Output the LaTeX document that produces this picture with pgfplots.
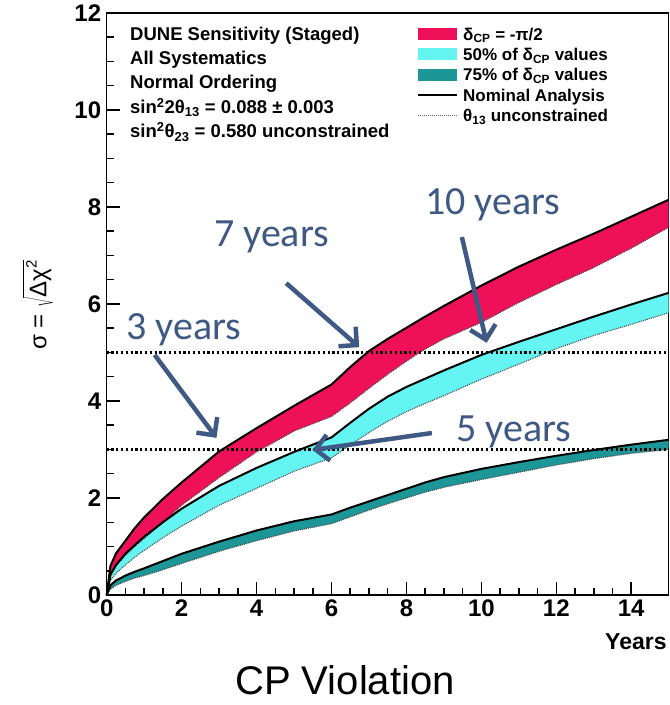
\documentclass[border=0pt]{standalone}
\usepackage{pgfplots}
\pgfplotsset{compat=1.18}
\usepackage{pgfplotstable}
\usepgfplotslibrary{fillbetween}
\usetikzlibrary{arrows.meta}
\usepackage{fontspec}
\setmainfont{Liberation Sans}
\newfontfamily\calib{Carlito}

\definecolor{bandred}{RGB}{238,16,88}
\definecolor{bandcyan}{RGB}{100,245,242}
\definecolor{bandteal}{RGB}{28,150,150}
\definecolor{note}{RGB}{62,90,132}

% Years, then upper (nominal) and lower (theta13 unconstrained) edges of each band
\pgfplotstableread{
x     ru    rl    cu    cl    tu    tl
0     0     0     0     0     0     0
0.1   0.60  0.40  0.42  0.30  0.20  0.12
0.25  0.86  0.60  0.62  0.45  0.30  0.20
0.5   1.12  0.82  0.85  0.62  0.40  0.28
0.75  1.38  1.00  1.03  0.78  0.48  0.35
1     1.60  1.17  1.20  0.92  0.55  0.40
1.5   1.98  1.50  1.50  1.18  0.70  0.52
2     2.32  1.85  1.78  1.42  0.85  0.65
3     2.96  2.42  2.25  1.85  1.10  0.90
4     3.44  2.95  2.62  2.20  1.33  1.12
5     3.90  3.38  2.95  2.55  1.52  1.32
6     4.34  3.68  3.25  2.83  1.66  1.47
6.5   4.70  3.96  3.55  3.09  1.80  1.61
7     5.03  4.26  3.84  3.35  1.93  1.75
7.5   5.28  4.55  4.09  3.58  2.06  1.88
8     5.51  4.82  4.29  3.78  2.19  2.00
8.5   5.74  5.07  4.46  3.95  2.32  2.12
9     5.96  5.28  4.63  4.11  2.43  2.22
10    6.38  5.62  4.95  4.45  2.60  2.38
11    6.77  6.03  5.22  4.76  2.74  2.53
12    7.12  6.40  5.48  5.08  2.87  2.68
13    7.45  6.75  5.74  5.35  2.99  2.81
14    7.80  7.15  5.99  5.58  3.10  2.92
15    8.15  7.58  6.23  5.82  3.20  3.00
}\sens

\begin{document}
\begin{tikzpicture}
\begin{axis}[
  scale only axis, width=562pt, height=582pt,
  xmin=0, xmax=15, ymin=0, ymax=12,
  xtick={0,2,...,14}, ytick={0,2,...,12},
  minor tick num=3,
  tick align=inside, tick pos=left,
  major tick length=13pt, minor tick length=7pt,
  every tick/.style={black, line width=1.5pt},
  axis line style={line width=1.5pt},
  ticklabel style={font=\fontsize{24}{24}\selectfont\bfseries},
  /pgf/number format/assume math mode=true,
  xticklabel style={yshift=-1pt},
  yticklabel style={xshift=-2pt},
  clip=false,
]
% band edges
\addplot[draw=none, name path=ru] table[x=x,y=ru]{\sens};
\addplot[draw=none, name path=rl] table[x=x,y=rl]{\sens};
\addplot[draw=none, name path=cu] table[x=x,y=cu]{\sens};
\addplot[draw=none, name path=cl] table[x=x,y=cl]{\sens};
\addplot[draw=none, name path=tu] table[x=x,y=tu]{\sens};
\addplot[draw=none, name path=tl] table[x=x,y=tl]{\sens};
\addplot[bandred] fill between[of=ru and rl];
\addplot[bandcyan] fill between[of=cu and cl];
\addplot[bandteal] fill between[of=tu and tl];

% theta13 unconstrained (dotted) and nominal (solid)
\foreach \c in {rl,cl,tl}{
  \addplot[black!70, line width=1.1pt, dash pattern=on 1pt off 1pt] table[x=x,y=\c]{\sens};
}
\foreach \c in {ru,cu,tu}{
  \addplot[black, line width=2pt] table[x=x,y=\c]{\sens};
}

% 3 and 5 sigma reference lines
\addplot[black, line width=2.2pt, dash pattern=on 2.2pt off 2.6pt] coordinates {(0,3) (15,3)};
\addplot[black, line width=2.2pt, dash pattern=on 2.2pt off 2.6pt] coordinates {(0,5) (15,5)};

% annotations
\begin{scope}[note, line width=4.5pt, -{Straight Barb[length=13pt,width=26pt]}]
\draw (axis cs:1.28,4.95) -- (axis cs:2.93,3.24);
\draw (axis cs:4.79,6.43) -- (axis cs:6.74,5.11);
\draw (axis cs:9.48,7.38) -- (axis cs:10.14,5.20);
\draw (axis cs:8.68,3.34) -- (axis cs:5.49,2.99);
\end{scope}
\begin{scope}[every node/.style={note, font=\calib\fontsize{40}{40}\selectfont}]
\node at (axis cs:2.06,5.46) {3 years};
\node at (axis cs:4.40,7.38) {7 years};
\node at (axis cs:10.30,8.04) {10 years};
\node at (axis cs:10.86,3.36) {5 years};
\end{scope}

% descriptive text
\begin{scope}[every node/.style={anchor=base west, inner sep=0pt, font=\fontsize{18.5}{18.5}\selectfont\bfseries}]
\node at (axis cs:0.622,11.443) {DUNE Sensitivity (Staged)};
\node at (axis cs:0.622,10.938) {All Systematics};
\node at (axis cs:0.622,10.433) {Normal Ordering};
\node at (axis cs:0.622,9.928) {sin\textsuperscript{2}2θ\textsubscript{13} = 0.088 ± 0.003};
\node at (axis cs:0.622,9.423) {sin\textsuperscript{2}θ\textsubscript{23} = 0.580 unconstrained};
\end{scope}

% legend
\fill[bandred]  (axis cs:8.31,11.450) rectangle (axis cs:9.35,11.700);
\fill[bandcyan] (axis cs:8.31,11.028) rectangle (axis cs:9.35,11.278);
\fill[bandteal] (axis cs:8.31,10.605) rectangle (axis cs:9.35,10.855);
\draw[black, line width=2pt] (axis cs:8.31,10.309) -- (axis cs:9.35,10.309);
\draw[black!60, line width=1pt, dash pattern=on 1pt off 1pt] (axis cs:8.31,9.887) -- (axis cs:9.35,9.887);
\begin{scope}[every node/.style={anchor=base west, inner sep=0pt, font=\fontsize{17}{17}\selectfont\bfseries}]
\node at (axis cs:9.51,11.443) {δ\textsubscript{CP} = -π/2};
\node at (axis cs:9.51,11.020) {50\% of δ\textsubscript{CP} values};
\node at (axis cs:9.51,10.598) {75\% of δ\textsubscript{CP} values};
\node at (axis cs:9.51,10.175) {Nominal Analysis};
\node at (axis cs:9.51,9.753) {θ\textsubscript{13} unconstrained};
\end{scope}

% axis titles
\node[rotate=90, font=\fontsize{24}{24}\selectfont] at (axis cs:-1.83,5.98)
  {σ = $\sqrt{\mbox{Δχ}^{\mbox{\fontsize{15}{15}\selectfont 2}}}$};
\node[anchor=base east, inner sep=0pt, font=\fontsize{23}{23}\selectfont\bfseries] at (axis cs:14.95,-1.134) {Years};
\node[anchor=base, inner sep=0pt, font=\fontsize{40}{40}\selectfont] at (axis cs:6.36,-2.06) {CP Violation};

\coordinate (ll) at (rel axis cs:0,0);
\coordinate (ur) at (rel axis cs:1,1);
\end{axis}
\pgfresetboundingbox
\path ([shift={(-106.7pt,-110pt)}]ll) rectangle ([shift={(0.5pt,13pt)}]ur);
\end{tikzpicture}
\end{document}
